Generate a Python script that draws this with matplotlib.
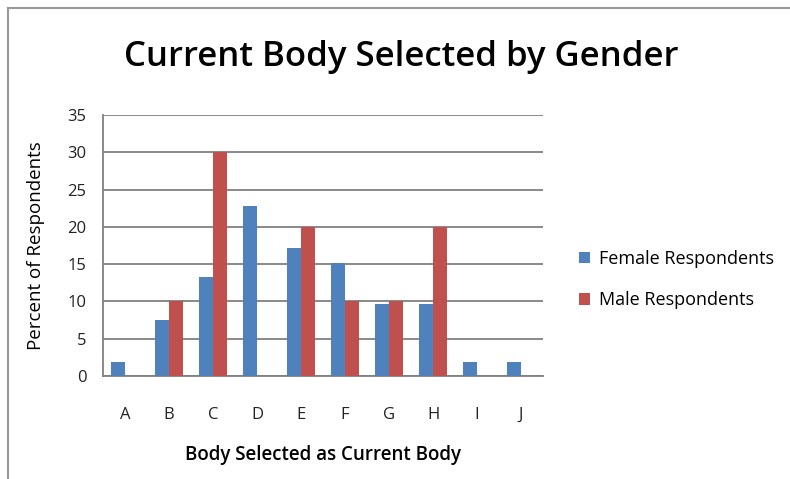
import numpy as np
import matplotlib.pyplot as plt

plt.rcParams['font.family'] = ['Open Sans', 'DejaVu Sans']

# Datos
bodies = ["A", "B", "C", "D", "E", "F", "G", "H", "I", "J"]
female = [1.9, 7.5, 13.3, 22.8, 17.1, 15.2, 9.6, 9.6, 1.9, 1.9]
male = [0, 10, 30, 0, 20, 10, 10, 20, 0, 0]
y_ticks = [0, 5, 10, 15, 20, 25, 30, 35]

fig = plt.figure(figsize=(7.9, 4.79), dpi=100)
ax = fig.add_axes([0.1304, 0.215, 0.557, 0.545])

x = np.arange(len(bodies))
w = 0.32
ax.bar(x - w / 2, female, w, color="#4F81BD", label="Female Respondents", zorder=3)
ax.bar(x + w / 2, male, w, color="#C0504D", label="Male Respondents", zorder=3)

ax.set_xlim(-0.5, len(bodies) - 0.5)
ax.set_ylim(0, 35)
ax.set_yticks(y_ticks)
ax.set_xticks(x)
ax.set_xticklabels(bodies)
ax.tick_params(axis="both", length=0, labelsize=12, colors="#222222")
ax.tick_params(axis="x", pad=22)
ax.tick_params(axis="y", pad=12)
ax.yaxis.grid(True, color="#808080", linewidth=1.3, zorder=0)

for s in ["top", "right"]:
    ax.spines[s].set_visible(False)
ax.spines["left"].set_color("#808080")
ax.spines["bottom"].set_color("#808080")
ax.spines["left"].set_linewidth(1.3)
ax.spines["bottom"].set_linewidth(1.3)

ax.set_xlabel("Body Selected as Current Body", fontsize=13.5, fontweight="semibold", labelpad=16)
ax.set_ylabel("Percent of Respondents", fontsize=13.5, labelpad=16)
fig.text(0.508, 0.881, "Current Body Selected by Gender", fontsize=25, fontweight="semibold",
         ha="center", va="center")

ax.legend(loc="center left", bbox_to_anchor=(1.045, 0.37), frameon=False, fontsize=13,
          handlelength=0.6, handleheight=0.6, labelspacing=1.3, handletextpad=0.5)

# borde del área del gráfico
fig.add_artist(plt.Line2D([0.0105, 0.0105], [0.0, 0.983], color="#999999", linewidth=1.5))
fig.add_artist(plt.Line2D([0.0105, 1.0], [0.983, 0.983], color="#999999", linewidth=1.5))

fig.savefig("out.png", dpi=100)
